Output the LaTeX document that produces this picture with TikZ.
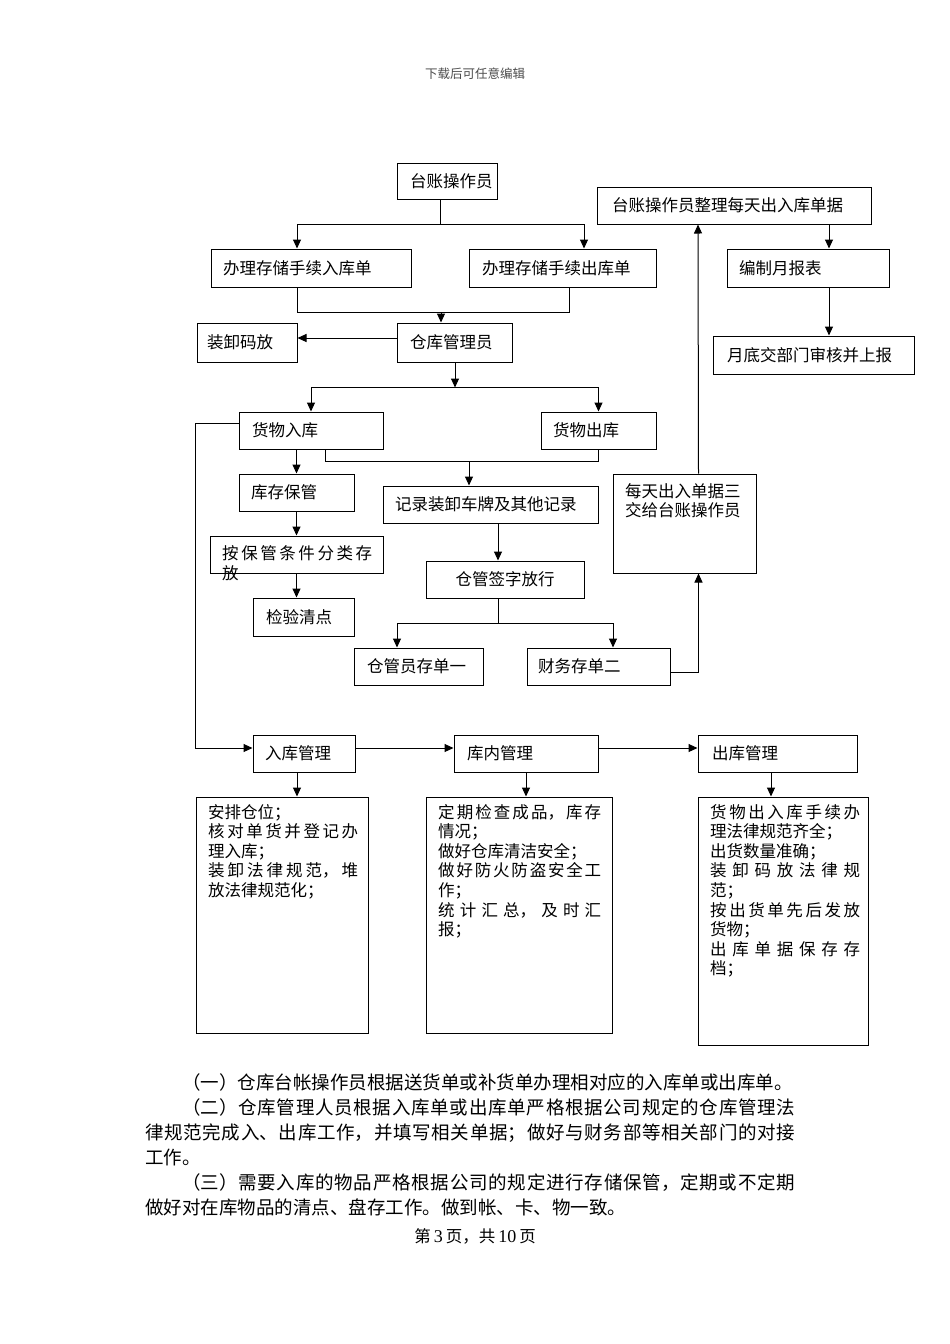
\documentclass[tikz,border=0pt]{standalone}
\usepackage{fontspec}
\setmainfont{Noto Sans CJK SC}
\newfontfamily\latinserif{Liberation Serif}
\usetikzlibrary{arrows.meta}
\newcommand\bxfont{\fontsize{16.5}{19.6}\selectfont}
\newcommand\parafont{\fontsize{18.5}{25}\selectfont}
\newcommand\zhbreak{\XeTeXlinebreaklocale "zh"\XeTeXlinebreakskip=0pt plus 10pt\relax\tolerance=10000\relax}
\tikzset{
  bx/.style={draw, line width=1pt, inner sep=0pt, font=\bxfont, align=left},
  bxs/.style n args={3}{minimum width=#1pt, minimum height=#2pt, text width=#3pt},
  txt/.style={inner sep=0pt, anchor=north west, font=\bxfont, align=justify},
  ln/.style={line width=1pt},
  arr/.style={line width=1pt, -{Triangle[length=9pt,width=8pt]}},
}
\begin{document}
\begin{tikzpicture}[x=1pt,y=-1pt]
\useasboundingbox (0,0) rectangle (950,1344);
\fill[white] (0,0) rectangle (950,1344);

% header
\node[inner sep=0pt, font=\fontsize{12.5}{12.5}\selectfont, text=black!70] (hdr) at (475,74) {下载后可任意编辑};

% top section boxes
\node[bx, bxs={100}{36}{74}] (tzczy) at (447,181) {台账操作员};
\node[bx, bxs={200}{38}{176}] (rkd) at (311,268) {办理存储手续入库单};
\node[bx, bxs={187}{38}{161}] (ckd) at (562.5,268) {办理存储手续出库单};
\node[bx, bxs={115}{39}{89}] (ckgly) at (454.5,342.5) {仓库管理员};
\node[bx, bxs={100}{39}{80}] (zxmf) at (247,342.5) {装卸码放};
\node[bx, bxs={274}{37}{244}] (zl) at (734,205.5) {台账操作员整理每天出入库单据};
\node[bx, bxs={162}{38}{138}] (bz) at (808,268) {编制月报表};
\node[bx, bxs={201}{38}{173}] (yd) at (813.5,355) {月底交部门审核并上报};

% middle section boxes
\node[bx, bxs={144}{37}{118}] (hwrk) at (311,430.5) {货物入库};
\node[bx, bxs={115}{37}{91}] (hwck) at (598.5,430.5) {货物出库};
\node[bx, bxs={115}{37}{91}] (kcbg) at (296.5,492.5) {库存保管};
\node[bx, bxs={215}{37}{191}] (jl) at (490.5,504.5) {记录装卸车牌及其他记录};
\node[bx, bxs={173}{37}{149}] (abg) at (296.5,554.5) {};
\node[txt, text width=150pt] (abgt) at (222,545.5) {\zhbreak 按保管条件分类存\linebreak 放};
\node[bx, bxs={101}{38}{75}] (jyqd) at (303.5,617) {检验清点};
\node[bx, bxs={158}{37}{134}, align=center] (cgqz) at (505,579.5) {仓管签字放行};
\node[bx, bxs={129}{37}{103}] (cgy) at (418.5,666.5) {仓管员存单一};
\node[bx, bxs={143}{37}{121}] (cw) at (598.5,666.5) {财务存单二};
\node[bx, bxs={143}{99}{119}] (mt) at (684.5,523.5) {};
\node[txt, align=left, text width=125pt] (mtt) at (625,483) {每天出入单据三\\交给台账操作员};

% bottom row
\node[bx, bxs={102}{37}{78}] (rkgl) at (304,753.5) {入库管理};
\node[bx, bxs={144}{37}{118}] (knlgl) at (526,753.5) {库内管理};
\node[bx, bxs={159}{37}{131}] (ckgl) at (777.5,753.5) {出库管理};
\node[bx, bxs={172}{236}{150}] (b1) at (282,915) {};
\node[bx, bxs={186}{236}{163}] (b2) at (519,915) {};
\node[bx, bxs={170}{248}{150}] (b3) at (783,921) {};
\node[txt, text width=150pt] (b1t) at (208,804) {\zhbreak 安排仓位；\\
核对单货并登记办\linebreak 理入库；\\
装卸法律规范，堆\linebreak 放法律规范化；};
\node[txt, text width=163pt] (b2t) at (438,804) {\zhbreak 定期检查成品，库存\linebreak 情况；\\
做好仓库清洁安全；\\
做好防火防盗安全工\linebreak 作；\\
统计汇总，及时汇\linebreak 报；};
\node[txt, text width=150pt] (b3t) at (710,804) {\zhbreak 货物出入库手续办\linebreak 理法律规范齐全；\\
出货数量准确；\\
装卸码放法律规\linebreak 范；\\
按出货单先后发放\linebreak 货物；\\
出库单据保存存\linebreak 档；};

% connectors: top
\draw[ln] ([xshift=-7]tzczy.south) -- ++(0,25) coordinate (j1);
\draw[arr] (j1) -| ([xshift=-14]rkd.north);
\draw[arr] (j1) -| ([xshift=21.5]ckd.north);
\draw[ln] ([xshift=-14]rkd.south) -- ++(0,25) -| ([xshift=6.8]ckd.south);
\coordinate (j2) at (441,312);
\draw[arr] (j2) -- ([xshift=-13.5]ckgly.north);
\draw[arr] ([yshift=4.5]ckgly.west) -- ([yshift=4.5]zxmf.east);
\draw[arr] ([xshift=0.5]ckgly.south) -- ++(0,25) coordinate (j3);
\draw[arr] (j3) -| (hwrk.north);
\draw[arr] (j3) -| (hwck.north);

% right column
\draw[arr] ([xshift=95]zl.south) -- ([xshift=21]bz.north);
\draw[arr] ([xshift=21]bz.south) -- ([xshift=15.5]yd.north);
\draw[arr] ([xshift=14]mt.north) -- ([xshift=-36]zl.south);

% middle
\draw[arr] (kcbg.north |- hwrk.south) -- (kcbg.north);
\draw[ln] ([xshift=14]hwrk.south) -- ++(0,12) -| (hwck.south);
\coordinate (j4) at (469,461);
\draw[arr] (j4) -- ([xshift=-21.5]jl.north);
\draw[arr] (kcbg.south) -- (kcbg.south |- abg.north);
\draw[arr] (abg.south) -- (abg.south |- jyqd.north);
\draw[arr] ([xshift=7.5]jl.south) -- ([xshift=-7]cgqz.north);
\draw[ln] ([xshift=-7]cgqz.south) -- ++(0,25) coordinate (j5);
\draw[arr] (j5) -| ([xshift=-21.5]cgy.north);
\draw[arr] (j5) -| ([xshift=14.5]cw.north);
\draw[arr] ([yshift=-6]cw.east) -| ([xshift=14]mt.south);

% left loop and bottom row
\draw[arr] ([yshift=7.5]hwrk.west) -- ++(-43,0) |- ([yshift=5.5]rkgl.west);
\draw[arr] ([yshift=5.5]rkgl.east) -- ([yshift=5.5]knlgl.west);
\draw[arr] ([yshift=5.5]knlgl.east) -- ([yshift=5.5]ckgl.west);
\draw[arr] ([xshift=-7]rkgl.south) -- ([xshift=15]b1.north);
\draw[arr] (knlgl.south) -- ([xshift=7]b2.north);
\draw[arr] ([xshift=-6.5]ckgl.south) -- ([xshift=-12]b3.north);

% body paragraphs
\node[inner sep=0pt, anchor=north west, text width=650pt, align=justify, font=\parafont] (para) at (145,1073) {\zhbreak
\hspace*{37pt}（一）仓库台帐操作员根据送货单或补货单办理相对应的入库单或出库单。\\
\hspace*{37pt}（二）仓库管理人员根据入库单或出库单严格根据公司规定的仓库管理法\linebreak 律规范完成入、出库工作，并填写相关单据；做好与财务部等相关部门的对接\linebreak 工作。\\
\hspace*{37pt}（三）需要入库的物品严格根据公司的规定进行存储保管，定期或不定期\linebreak 做好对在库物品的清点、盘存工作。做到帐、卡、物一致。};

% footer
\node[inner sep=0pt, font=\fontsize{16.5}{16.5}\selectfont] (ftr) at (475,1236) {第{\latinserif\fontsize{18}{18}\selectfont\,3\,}页，共{\latinserif\fontsize{18}{18}\selectfont\,10\,}页};
\end{tikzpicture}
\end{document}
